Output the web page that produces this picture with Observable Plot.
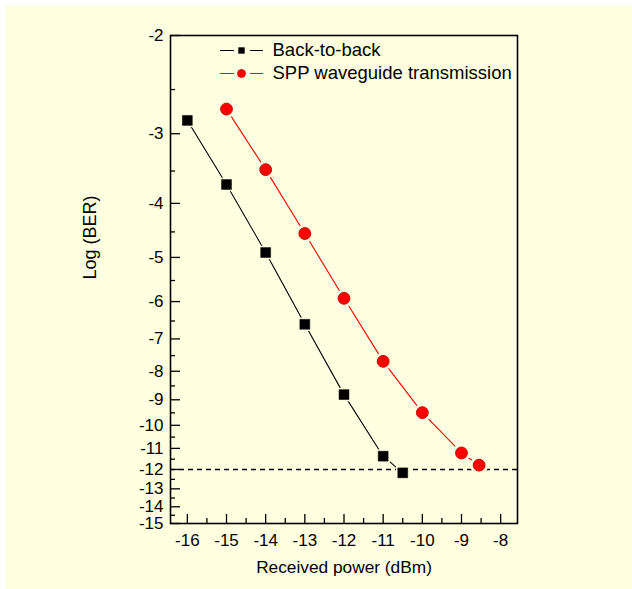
<!DOCTYPE html>
<html>
<head>
<meta charset="utf-8">
<script src="https://cdn.jsdelivr.net/npm/d3@7"></script>
<script src="https://cdn.jsdelivr.net/npm/@observablehq/plot@0.6"></script>
<style>
  html, body { margin: 0; padding: 0; background: #ffffff; }
  #bg { position: absolute; left: 5px; top: 5px; width: 627px; height: 584px; background: #ffffe1; }
  #chart { position: absolute; left: 0; top: 0; }
</style>
</head>
<body>
<div id="bg"></div>
<div id="chart"></div>
<script>
// ---- data ----
const powerB2B = [-16, -15, -14, -13, -12, -11, -10.5];
const logBerB2B = [-2.84, -3.70, -4.90, -6.59, -8.81, -11.36, -12.17];
const powerSPP = [-15, -14, -13, -12, -11, -10, -9, -8.55];
const logBerSPP = [-2.71, -3.48, -4.53, -5.92, -7.68, -9.49, -11.21, -11.79];
const seriesNames = ["Back-to-back", "SPP waveguide transmission"];
const xTicks = [-16, -15, -14, -13, -12, -11, -10, -9, -8];
const xMinor = [-15.5, -14.5, -13.5, -12.5, -11.5, -10.5, -9.5, -8.5];
const yTicks = [-2, -3, -4, -5, -6, -7, -8, -9, -10, -11, -12, -13, -14, -15];
const yMinor = [-2.5, -3.5, -4.5, -5.5, -6.5, -7.5, -8.5, -9.5, -10.5, -11.5, -12.5, -13.5, -14.5];
const threshold = [-12];
const xLabel = "Received power (dBm)";
const yLabel = "Log (BER)";

const b2b = powerB2B.map((p, i) => ({p, v: logBerB2B[i]}));
const spp = powerSPP.map((p, i) => ({p, v: logBerSPP[i]}));

const W = 632, H = 589;
const mL = 170, mR = 115, mT = 35, mB = 66;
const fw = W - mL - mR, fh = H - mT - mB;
const bg = "#ffffe1";
const FS = 17;
const LFS = 18.5;
const lineShape = {draw(ctx, l) { ctx.moveTo(0, 0); ctx.lineTo(0, -l); }};

const chart = Plot.plot({
  width: W, height: H,
  marginLeft: mL, marginRight: mR, marginTop: mT, marginBottom: mB,
  style: {background: "transparent", fontFamily: "'Liberation Sans', Arial, sans-serif", fontSize: FS + "px", color: "#000"},
  x: {domain: [-16.43, -7.57]},
  y: {type: "log", domain: [-15, -2]},
  marks: [
    Plot.ruleY(threshold, {y: d => d, stroke: "#000", strokeWidth: 1.4, strokeDasharray: "5,4"}),
    Plot.line(b2b, {x: "p", y: "v", stroke: "#000", strokeWidth: 1.1}),
    Plot.line(spp, {x: "p", y: "v", stroke: "#ff0000", strokeWidth: 1.1}),
    Plot.dot(b2b, {x: "p", y: "v", symbol: "square", r: 7.6, fill: bg, stroke: "none"}),
    Plot.dot(spp, {x: "p", y: "v", symbol: "circle", r: 9, fill: bg, stroke: "none"}),
    Plot.dot(b2b, {x: "p", y: "v", symbol: "square", r: 5.6, fill: "#000", stroke: "#000", strokeWidth: 0.5}),
    Plot.dot(spp, {x: "p", y: "v", symbol: "circle", r: 5.9, fill: "#ff0000", stroke: "#d00000", strokeWidth: 1}),
    // ticks (inward)
    Plot.tickY(yTicks, {y: d => d, insetRight: fw - 10, stroke: "#000", strokeWidth: 1.3}),
    Plot.tickY(yMinor, {y: d => d, insetRight: fw - 5, stroke: "#000", strokeWidth: 1.3}),
    Plot.tickX(xTicks, {x: d => d, insetTop: fh - 9, stroke: "#000", strokeWidth: 1.3}),
    Plot.tickX(xMinor, {x: d => d, insetTop: fh - 5, stroke: "#000", strokeWidth: 1.3}),
    Plot.axisY({ticks: yTicks, tickSize: 0, tickPadding: 7, tickFormat: d => String(d), label: null, fontSize: FS}),
    Plot.axisX({ticks: xTicks, tickSize: 0, tickPadding: 10, tickFormat: d => String(d), label: null, fontSize: FS}),
    Plot.frame({stroke: "#000", strokeWidth: 1.6}),
    // axis titles
    Plot.text([xLabel], {text: d => d, frameAnchor: "bottom", dy: 44, lineAnchor: "middle", fontSize: 17.3, fill: "#000"}),
    Plot.text([yLabel], {text: d => d, frameAnchor: "left", dx: -80, rotate: -90, lineAnchor: "middle", fontSize: 18, fill: "#000"}),
    // legend
    Plot.vector([0], {frameAnchor: "top-left", dx: 50, dy: 15, length: 13, rotate: 90, anchor: "start", shape: lineShape, stroke: "#000", strokeWidth: 1.2}),
    Plot.vector([0], {frameAnchor: "top-left", dx: 80, dy: 15, length: 12, rotate: 90, anchor: "start", shape: lineShape, stroke: "#000", strokeWidth: 1.2}),
    Plot.dot([0], {frameAnchor: "top-left", dx: 71, dy: 15, symbol: "square", r: 3.6, fill: "#000"}),
    Plot.text([seriesNames[0]], {text: d => d, frameAnchor: "top-left", dx: 102, dy: 15, textAnchor: "start", lineAnchor: "middle", fontSize: LFS, fill: "#000"}),
    Plot.vector([0], {frameAnchor: "top-left", dx: 50, dy: 38, length: 13, rotate: 90, anchor: "start", shape: lineShape, stroke: "#ff0000", strokeWidth: 1.2}),
    Plot.vector([0], {frameAnchor: "top-left", dx: 80, dy: 38, length: 12, rotate: 90, anchor: "start", shape: lineShape, stroke: "#ff0000", strokeWidth: 1.2}),
    Plot.dot([0], {frameAnchor: "top-left", dx: 71, dy: 38, symbol: "circle", r: 4, fill: "#ff0000", stroke: "#d00000", strokeWidth: 0.8}),
    Plot.text([seriesNames[1]], {text: d => d, frameAnchor: "top-left", dx: 102, dy: 38, textAnchor: "start", lineAnchor: "middle", fontSize: LFS, fill: "#000"})
  ]
});
document.getElementById("chart").appendChild(chart);
</script>
</body>
</html>
